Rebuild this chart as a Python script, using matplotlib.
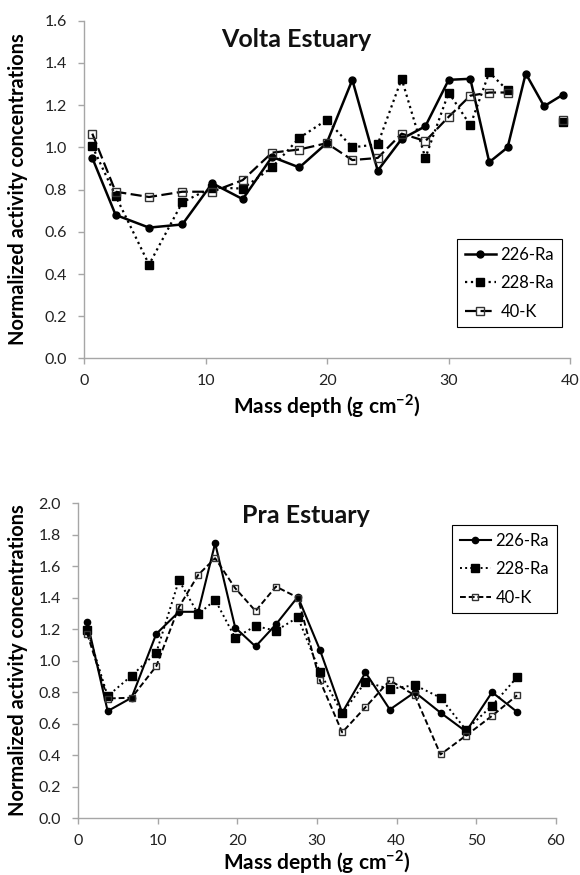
import numpy as np
import matplotlib
matplotlib.use("Agg")
import matplotlib.pyplot as plt

plt.rcParams['font.family'] = ['Lato', 'DejaVu Sans']
plt.rcParams['mathtext.fontset'] = 'custom'
plt.rcParams['mathtext.rm'] = 'Lato'
plt.rcParams['mathtext.bf'] = 'Lato:bold'

nan = np.nan

# Volta Estuary
x_volta = [0.66, 2.58, 5.33, 8.07, 10.53, 13.04, 15.45, 17.7, 19.95, 22.06,
           24.15, 26.12, 28.07, 29.99, 31.77, 33.33, 34.84, 36.33, 37.84, 39.4]
ra226_volta = [0.95, 0.68, 0.62, 0.635, 0.83, 0.755, 0.955, 0.905, 1.02, 1.32,
               0.89, 1.04, 1.10, 1.32, 1.325, 0.93, 1.00, 1.35, 1.195, 1.25]
ra228_volta = [1.005, 0.77, 0.445, 0.74, 0.81, 0.805, 0.905, 1.045, 1.13, 1.00,
               1.015, 1.325, 0.95, 1.26, 1.105, 1.355, 1.27, nan, nan, 1.12]
k40_volta = [1.065, 0.79, 0.765, 0.79, 0.79, 0.845, 0.975, 0.99, 1.02, 0.94,
             0.95, 1.065, 1.03, 1.145, 1.245, 1.26, 1.26, nan, nan, 1.13]

# Pra Estuary
x_pra = [1.13, 3.69, 6.7, 9.8, 12.65, 15.08, 17.2, 19.72, 22.28, 24.84,
         27.6, 30.36, 33.17, 36.1, 39.16, 42.3, 45.53, 48.74, 52.01, 55.15]
ra226_pra = [1.245, 0.68, 0.765, 1.17, 1.31, 1.31, 1.745, 1.21, 1.09, 1.23,
             1.405, 1.07, 0.67, 0.925, 0.69, 0.80, 0.67, 0.55, 0.80, 0.675]
ra228_pra = [1.195, 0.775, 0.905, 1.05, 1.51, 1.295, 1.385, 1.145, 1.22, 1.19,
             1.275, 0.93, 0.665, 0.865, 0.82, 0.845, 0.765, 0.56, 0.715, 0.895]
k40_pra = [1.17, 0.76, 0.765, 0.965, 1.34, 1.545, 1.65, 1.46, 1.315, 1.47,
           1.40, 0.875, 0.545, 0.705, 0.875, 0.78, 0.405, 0.525, 0.65, 0.78]

labels = ['226-Ra', '228-Ra', '40-K']

fig = plt.figure(figsize=(5.8, 8.75), dpi=100)
ax1 = fig.add_axes([0.1453, 0.5903, 0.838, 0.3860])
ax2 = fig.add_axes([0.135, 0.0648, 0.823, 0.3603])

spine_col = '#a6a6a6'


def style_axes(ax, xmax, ymax, xstep):
    for s in ['top', 'right']:
        ax.spines[s].set_visible(False)
    for s in ['left', 'bottom']:
        ax.spines[s].set_color(spine_col)
        ax.spines[s].set_linewidth(1.0)
    ax.set_xlim(0, xmax)
    ax.set_ylim(0, ymax)
    ax.set_xticks(np.arange(0, xmax + 0.1, xstep))
    ax.set_yticks(np.arange(0, ymax + 0.01, 0.2))
    ax.yaxis.set_major_formatter(matplotlib.ticker.FormatStrFormatter('%.1f'))
    ax.tick_params(direction='out', length=4, width=1, color=spine_col,
                   labelsize=11.5, labelcolor='#222222')
    ax.tick_params(axis='y', pad=8.5)
    ax.tick_params(axis='x', pad=7.5)


def add_legend(ax, loc, anchor):
    leg = ax.legend(loc=loc, bbox_to_anchor=anchor, borderaxespad=0,
                    fontsize=12, frameon=True, fancybox=False,
                    edgecolor='black', framealpha=1, handlelength=1.9,
                    handletextpad=0.25, labelspacing=0.75, borderpad=0.45)
    leg.get_frame().set_linewidth(0.8)
    return leg


# top chart
ax1.plot(x_volta, ra226_volta, '-', color='black', lw=1.8, marker='o', ms=5,
         label=labels[0])
ax1.plot(x_volta, ra228_volta, ':', color='black', lw=1.6, marker='s', ms=5.5,
         label=labels[1])
ax1.plot(x_volta, k40_volta, color='black', lw=1.6, ls=(0, (5, 2)), marker='s',
         ms=6, mfc='none', mec='#333333', mew=1.0, label=labels[2])
style_axes(ax1, 40, 1.6, 10)
add_legend(ax1, 'lower left', (0.767, 0.093))

# bottom chart
ax2.plot(x_pra, ra226_pra, '-', color='black', lw=1.5, marker='o', ms=4.5,
         label=labels[0])
ax2.plot(x_pra, ra228_pra, ':', color='black', lw=1.4, marker='s', ms=6,
         label=labels[1])
ax2.plot(x_pra, k40_pra, color='black', lw=1.4, ls=(0, (3, 1.5)), marker='s',
         ms=5, mfc='none', mec='#333333', mew=1.0, label=labels[2])
style_axes(ax2, 60, 2.0, 10)
add_legend(ax2, 'upper left', (0.783, 0.930))

# titles and axis labels
fig.text(0.510, 0.9554, 'Volta Estuary', fontsize=18, fontweight='bold',
         ha='center', va='center', color='#111111')
fig.text(0.5276, 0.4114, 'Pra Estuary', fontsize=18, fontweight='bold',
         ha='center', va='center', color='#111111')

ylab = 'Normalized activity concentrations'
xlab = r'Mass depth (g cm$^{\mathbf{-2}}$)'
fig.text(18 / 580, 1 - 189.6 / 875, ylab, rotation=90, fontsize=14.4,
         fontweight='bold', ha='center', va='center')
fig.text(18 / 580, 1 - 660.6 / 875, ylab, rotation=90, fontsize=14.4,
         fontweight='bold', ha='center', va='center')
fig.text(327 / 580, 1 - 406 / 875, xlab, fontsize=15, fontweight='bold',
         ha='center', va='center')
fig.text(317 / 580, 1 - 862 / 875, xlab, fontsize=15, fontweight='bold',
         ha='center', va='center')

fig.savefig('out.png', dpi=100)
